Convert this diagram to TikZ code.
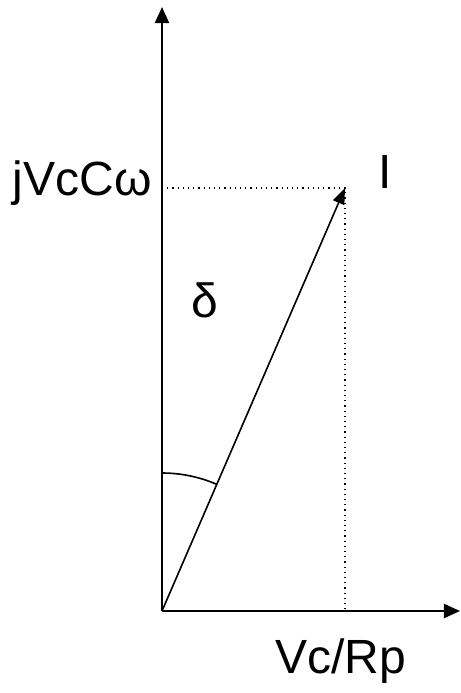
\documentclass[tikz,border=0pt]{standalone}
\usepackage{fontspec}
\setmainfont{Liberation Sans}
\usetikzlibrary{arrows.meta}
\begin{document}
\begin{tikzpicture}[x=0.5pt,y=-0.5pt,
  axis/.style={-{Triangle[length=8pt,width=7pt]},line width=1pt},
  phasor/.style={-{Triangle[length=8pt,width=6pt]},line width=0.8pt},
  guide/.style={dotted,line width=0.6pt},
  lbl/.style={font=\fontsize{24}{28}\selectfont,inner sep=0pt}
]
\useasboundingbox (0,0) rectangle (461,693);
\coordinate (O) at (162,611);
\coordinate (ytop) at (162,7);
\coordinate (xend) at (460,611);
\coordinate (tip) at (345,188);
\coordinate (proj) at (162,188);
\coordinate (foot) at (345,611);
% axes
\draw[axis] (O) -- (ytop);
\draw[axis] (O) -- (xend);
% projections
\draw[guide] (proj) -- (tip) -- (foot);
% current phasor
\draw[phasor] (O) -- (tip);
\draw[line width=0.8pt] ([shift={(-90:138)}]O) arc[start angle=-90,end angle=-66.6,radius=138];
% labels
\node[lbl,anchor=base east] (imag) at (152,195) {jVcCω};
\node[lbl,anchor=base west] (cur) at (378,188) {I};
\node[lbl,anchor=base west] (real) at (275,673) {Vc/Rp};
\node[lbl] (delta) at (205,300) {δ};
\end{tikzpicture}
\end{document}
